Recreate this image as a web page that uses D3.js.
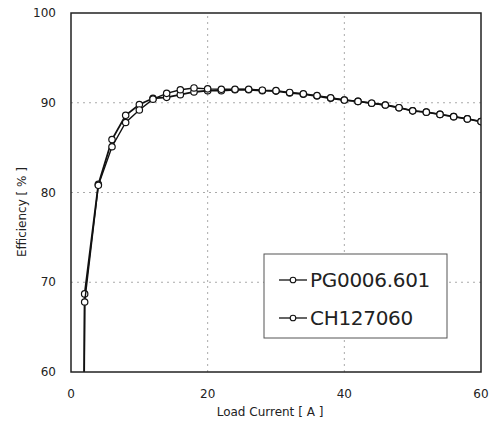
<!DOCTYPE html>
<html>
<head>
<meta charset="utf-8">
<script src="https://cdn.jsdelivr.net/npm/d3@7"></script>
<style>
  body { margin: 0; background: #fff; }
  text { font-family: "DejaVu Sans", Verdana, sans-serif; fill: #222; }
</style>
</head>
<body>
<svg width="494" height="424"></svg>
<script>
var width = 494;
var height = 424;

// load current [A]
var current = [1.8, 2, 4, 6, 8, 10, 12, 14, 16, 18, 20, 22, 24, 26, 28, 30, 32, 34, 36, 38, 40,
    42, 44, 46, 48, 50, 52, 54, 56, 58, 60];

// efficiency [%]
var pg0006 = [45, 68.7, 80.9, 85.9, 88.6, 89.8, 90.5, 90.6, 90.9, 91.2, 91.35, 91.35, 91.45, 91.45, 91.35, 91.3,
    91.1, 90.95, 90.75, 90.5, 90.3, 90.15, 89.95, 89.75, 89.45, 89.1, 88.95, 88.7, 88.45, 88.2, 87.9];
var ch127060 = [45, 67.8, 80.8, 85.1, 87.8, 89.2, 90.4, 91.05, 91.45, 91.65, 91.55, 91.5, 91.5, 91.5, 91.4, 91.35,
    91.15, 91.0, 90.8, 90.55, 90.3, 90.15, 89.95, 89.75, 89.45, 89.1, 88.95, 88.7, 88.45, 88.2, 87.9];

var seriesNames = ["PG0006.601", "CH127060"];
var xTicks = [0, 20, 40, 60];
var yTicks = [60, 70, 80, 90, 100];

var margin = {left: 71, right: 13, top: 13, bottom: 52};

var svg = d3.select("svg");

var x = d3.scaleLinear().domain([0, 60]).range([margin.left, width - margin.right]);
var y = d3.scaleLinear().domain([60, 100]).range([height - margin.bottom, margin.top]);

svg.append("clipPath").attr("id", "clip")
    .append("rect")
    .attr("x", x(0)).attr("y", y(100))
    .attr("width", x(60) - x(0)).attr("height", y(60) - y(100));

// grid
var grid = svg.append("g");
grid.selectAll("line.v")
    .data([20, 40])
    .enter().append("line")
    .attr("x1", function(d) { return x(d); })
    .attr("x2", function(d) { return x(d); })
    .attr("y1", y(60)).attr("y2", y(100))
    .attr("stroke", "#aaa").attr("stroke-dasharray", "2,4");
grid.selectAll("line.h")
    .data([70, 80, 90])
    .enter().append("line")
    .attr("y1", function(d) { return y(d); })
    .attr("y2", function(d) { return y(d); })
    .attr("x1", x(0)).attr("x2", x(60))
    .attr("stroke", "#aaa").attr("stroke-dasharray", "2,4");

// axis labels
svg.append("g").selectAll("text")
    .data(xTicks)
    .enter().append("text")
    .attr("x", function(d) { return x(d); })
    .attr("y", y(60) + 26)
    .attr("text-anchor", "middle")
    .attr("font-size", 12)
    .text(function(d) { return d; });

svg.append("g").selectAll("text")
    .data(yTicks)
    .enter().append("text")
    .attr("x", x(0) - 15)
    .attr("y", function(d) { return y(d) + 4; })
    .attr("text-anchor", "end")
    .attr("font-size", 12)
    .text(function(d) { return d; });

svg.append("text")
    .attr("x", 270).attr("y", 416)
    .attr("text-anchor", "middle")
    .attr("font-size", 12)
    .text("Load Current [ A ]");

svg.append("text")
    .attr("transform", "translate(26,212) rotate(-90)")
    .attr("text-anchor", "middle")
    .attr("font-size", 12)
    .text("Efficiency [ % ]");

// curves
var plot = svg.append("g").attr("clip-path", "url(#clip)");
var line = d3.line()
    .x(function(d) { return x(d[0]); })
    .y(function(d) { return y(d[1]); });

[pg0006, ch127060].forEach(function(vals, i) {
    var pts = current.map(function(c, j) { return [c, vals[j]]; });
    plot.append("path")
        .datum(pts)
        .attr("fill", "none")
        .attr("stroke", "#111")
        .attr("stroke-width", i === 0 ? 1.8 : 1.4)
        .attr("d", line);
    plot.selectAll("circle.s" + i)
        .data(pts.slice(1))
        .enter().append("circle")
        .attr("cx", function(d) { return x(d[0]); })
        .attr("cy", function(d) { return y(d[1]); })
        .attr("r", 3.2)
        .attr("fill", "#fff")
        .attr("stroke", "#111")
        .attr("stroke-width", 1.2);
});

// frame
svg.append("rect")
    .attr("x", x(0)).attr("y", y(100))
    .attr("width", x(60) - x(0)).attr("height", y(60) - y(100))
    .attr("fill", "none").attr("stroke", "#222").attr("stroke-width", 1.5);

// legend
var lg = svg.append("g");
lg.append("rect")
    .attr("x", 264).attr("y", 254).attr("width", 183).attr("height", 84)
    .attr("fill", "#fff").attr("stroke", "#555").attr("stroke-width", 1);
seriesNames.forEach(function(name, i) {
    var ly = 280 + i * 38;
    lg.append("line")
        .attr("x1", 279).attr("x2", 307).attr("y1", ly).attr("y2", ly)
        .attr("stroke", "#111").attr("stroke-width", 1.3);
    lg.append("circle")
        .attr("cx", 293).attr("cy", ly).attr("r", 2.8)
        .attr("fill", "#fff").attr("stroke", "#111").attr("stroke-width", 1.1);
    lg.append("text")
        .attr("x", 310).attr("y", ly + 7)
        .attr("font-size", 20)
        .attr("letter-spacing", -0.3)
        .text(name);
});
</script>
</body>
</html>
